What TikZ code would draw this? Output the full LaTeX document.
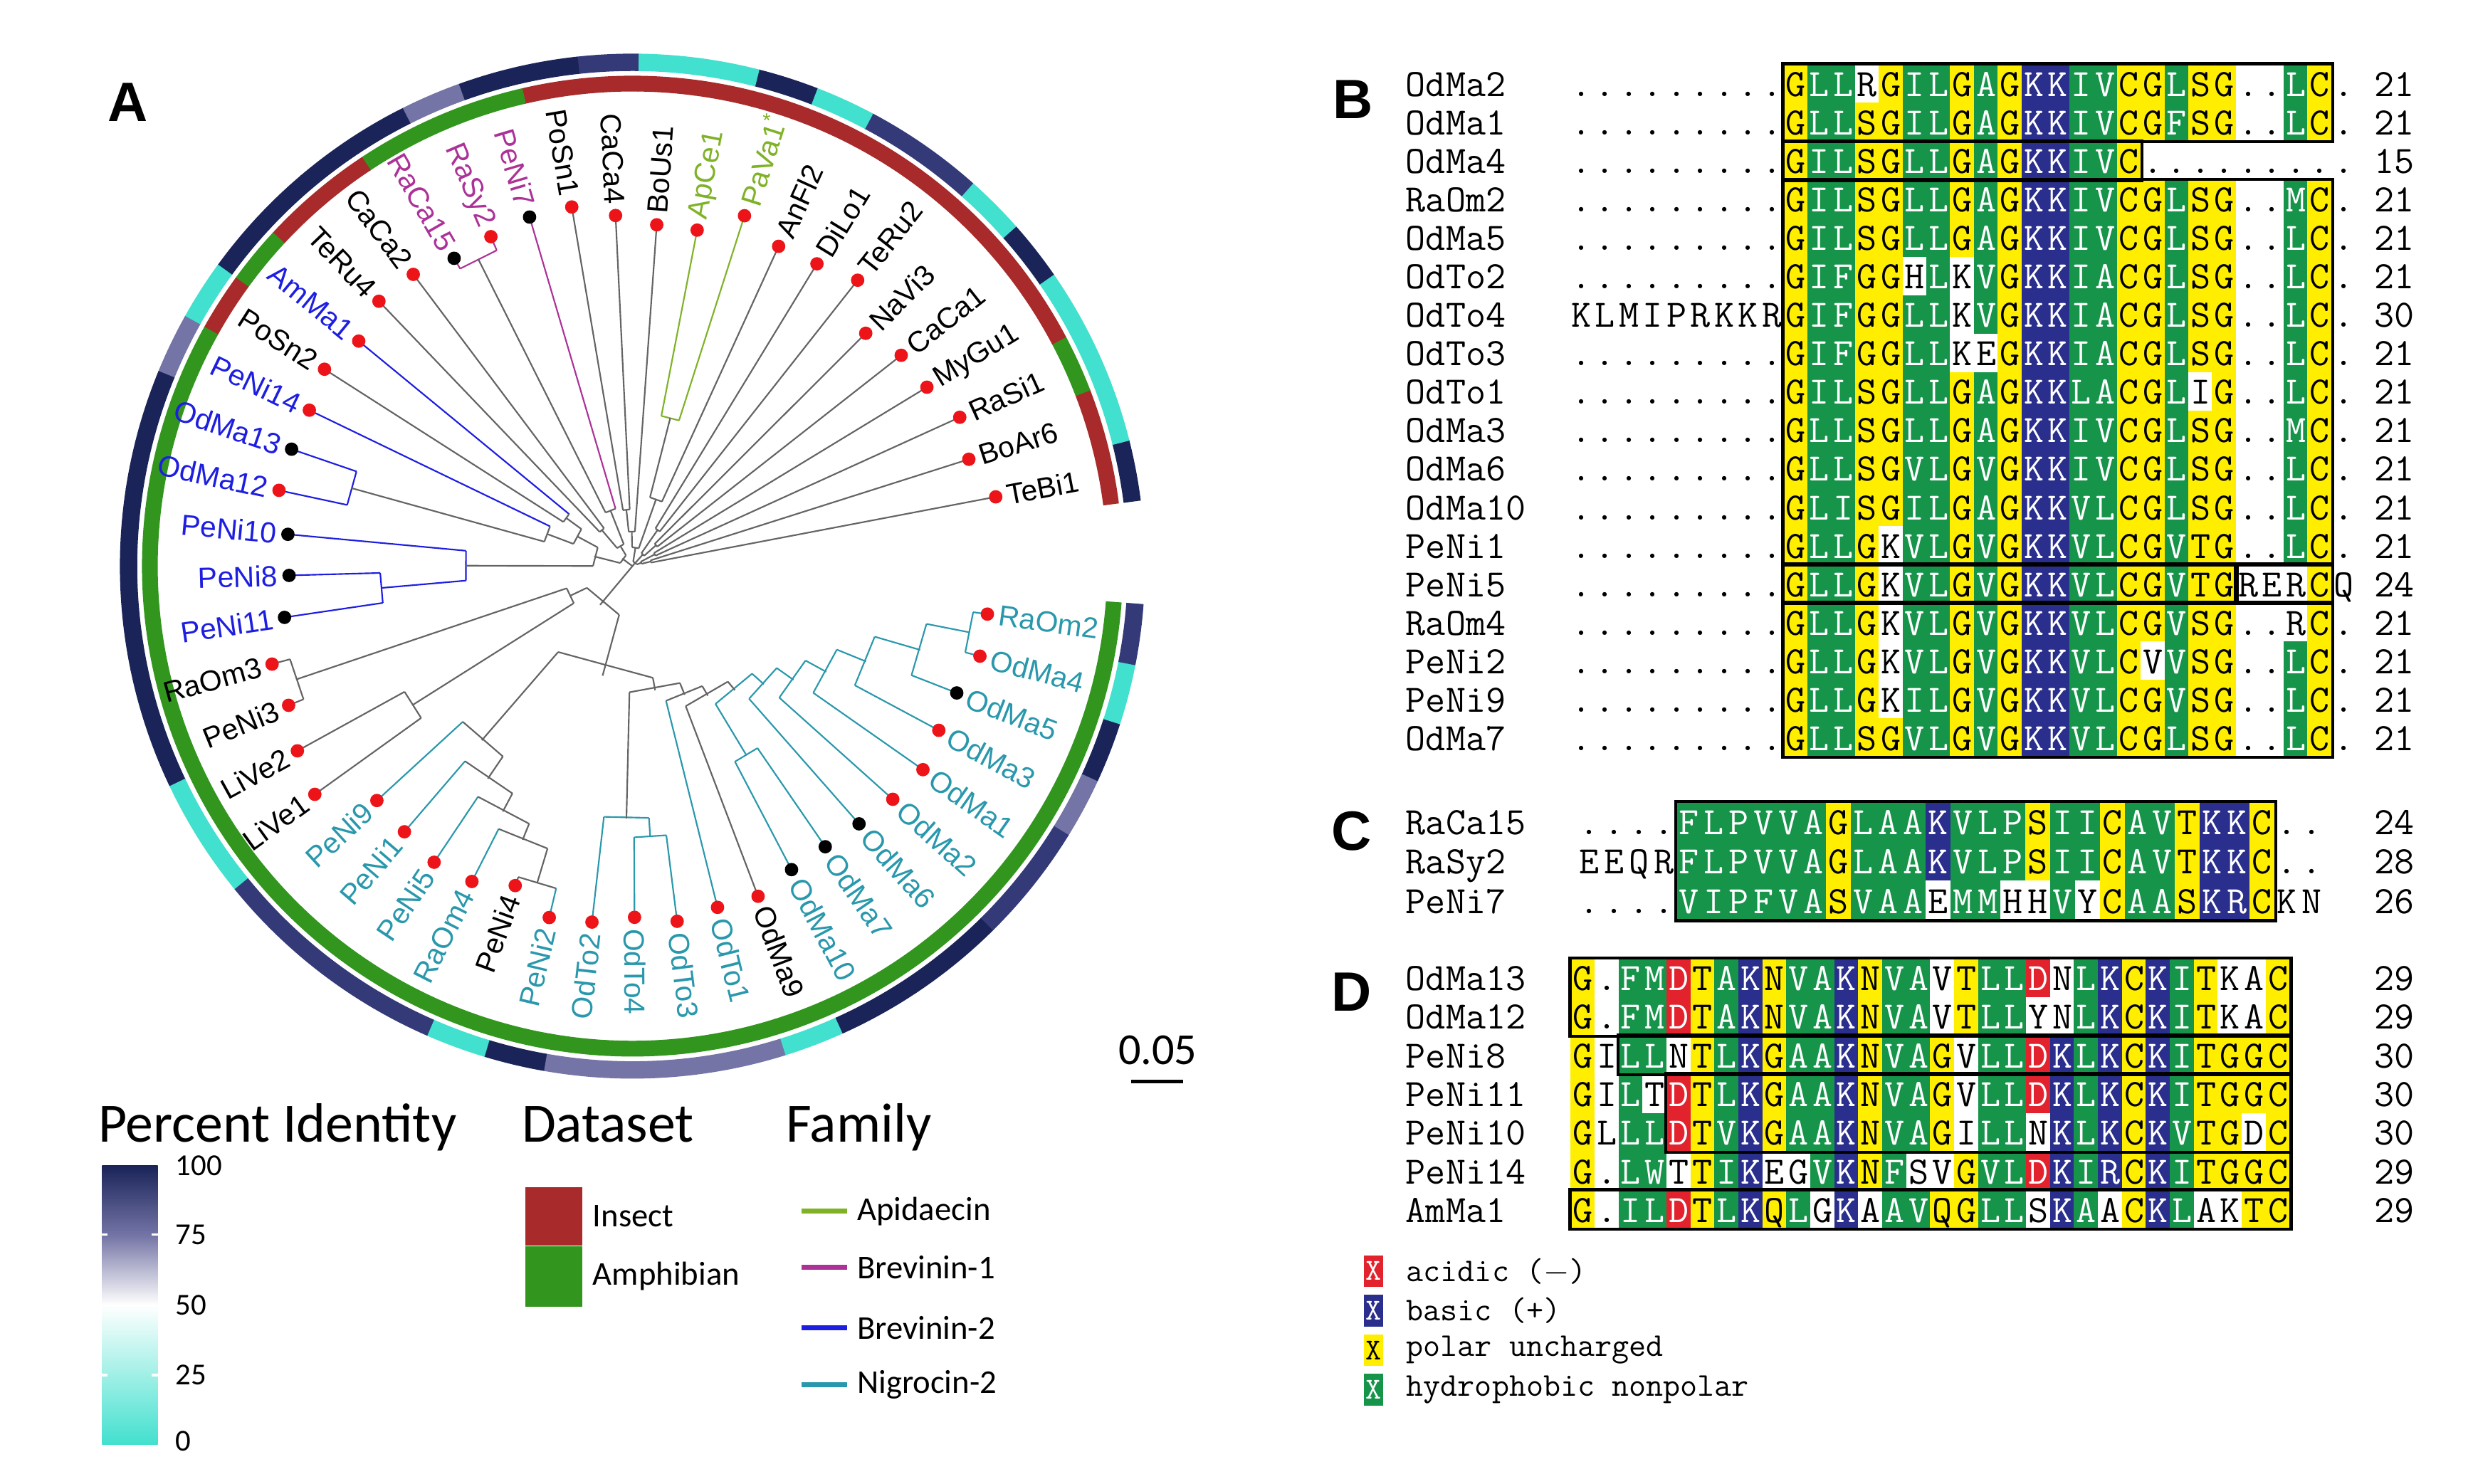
\documentclass[tikz,border=0pt]{standalone}
\usepackage{fontspec}
\usetikzlibrary{positioning}
\newfontfamily\helv{Liberation Sans}
\newfontfamily\calib{Carlito}

\definecolor{brgray}{RGB}{100,100,100}
\definecolor{api}{RGB}{128,178,40}
\definecolor{bre1}{RGB}{172,50,152}
\definecolor{bre2}{RGB}{30,30,225}
\definecolor{nig}{RGB}{42,152,172}
\definecolor{dotred}{RGB}{236,20,24}
\definecolor{ins}{RGB}{168,42,42}
\definecolor{amp}{RGB}{50,150,30}
\definecolor{pidnavy}{RGB}{26,36,88}
\definecolor{pidslate}{RGB}{52,58,120}
\definecolor{pidlslate}{RGB}{116,116,166}
\definecolor{pidturq}{RGB}{66,224,206}
\definecolor{bgY}{RGB}{255,238,0}
\definecolor{bgG}{RGB}{22,148,74}
\definecolor{bgB}{RGB}{42,46,140}
\definecolor{bgR}{RGB}{226,34,44}
\definecolor{bgW}{RGB}{255,255,255}
\colorlet{fgY}{black}
\colorlet{fgG}{white}
\colorlet{fgB}{white}
\colorlet{fgR}{white}
\colorlet{fgW}{black}

\pgfdeclareverticalshading{pidbar}{100bp}{color(0bp)=(pidturq); color(25bp)=(pidturq); color(50bp)=(white); color(62.5bp)=(pidlslate); color(75bp)=(pidnavy); color(100bp)=(pidnavy)}

% residue classes: Y polar, G hydrophobic, B basic, R acidic, W none
\newcommand\defres[2]{\foreach \rs in {#2}{\expandafter\xdef\csname res-\rs\endcsname{#1}}}
\defres{Y}{G,S,T,C,N,Q,Y}
\defres{G}{A,V,L,I,M,F,W,P}
\defres{B}{K,R,H}
\defres{R}{D,E}
\defres{W}{.}

% column classes of the three alignments
\newcommand\defcols[2]{\foreach \k [count=\i] in {#2}{\expandafter\xdef\csname #1col\i\endcsname{\k}}}
\defcols{b}{W,W,W,W,W,W,W,W,W,Y,G,G,Y,Y,G,G,Y,G,Y,B,B,G,G,Y,Y,G,Y,Y,W,W,G,Y,W}
\defcols{c}{W,W,W,W,G,G,G,G,G,G,Y,G,G,G,B,G,G,G,Y,G,G,Y,G,G,Y,B,B,Y,W,W}
\defcols{d}{Y,W,G,G,R,Y,G,B,Y,G,G,B,Y,G,G,Y,Y,G,G,R,B,G,B,Y,B,G,Y,Y,Y,Y}

\newcommand\seqtolist[1]{\gdef\seqlist{}\seqstep#1\relax}
\def\seqstep#1{\ifx#1\relax\else\xdef\seqlist{\seqlist\ifx\seqlist\empty\else,\fi#1}\expandafter\seqstep\fi}

% one alignment row: panel, id, label, y, x of first column, column width, residues, length
\newcommand\alnrow[8]{%
  \node[seqname] (#2) at (891,#4) {#3};
  \seqtolist{#7}%
  \foreach \sq [count=\i] in \seqlist {%
    \edef\colc{\csname #1col\i\endcsname}%
    \edef\resc{\csname res-\sq\endcsname}%
    \ifx\colc\resc\edef\cellc{\colc}\else\def\cellc{W}\fi
    \node[cell, minimum width=#6*0.02cm+0.3pt, fill=bg\cellc, text=fg\cellc] (#2-\i) at ({#5+(\i-1)*#6},#4) {\sq};
  }%
  \node[seqnum] (#2-len) at (1505,#4) {#8};
}

% tree points
\newcommand\tpt[3]{%
  \expandafter\xdef\csname a-#1\endcsname{#2}%
  \expandafter\xdef\csname r-#1\endcsname{#3}%
  \coordinate (#1) at (#2:#3);}
% clade: name, radius, children, chord colour, colour of own stem
\newcommand\clade[5]{%
  \foreach \ch [count=\k] in {#3} {\ifnum\k=1 \xdef\cfirst{\ch}\fi\xdef\clast{\ch}}%
  \edef\fa{\csname a-\cfirst\endcsname}\edef\la{\csname a-\clast\endcsname}%
  \pgfmathsetmacro\cang{(\fa+\la)/2}%
  \tpt{#1}{\cang}{#2}%
  \expandafter\xdef\csname e-#1\endcsname{#5}%
  \foreach \ch in {#3} {%
    \edef\chang{\csname a-\ch\endcsname}%
    \edef\chcol{\csname e-\ch\endcsname}%
    \coordinate (\ch-e) at (\chang:#2);
    \draw[branch, draw=\chcol] (\ch-e) -- (\ch);
  }%
  \draw[branch, draw=#4] (\cfirst-e) -- (\clast-e);
}

\def\leaflist{%
TeBi1/TeBi1/234.5/black/dotred/brgray,
BoAr6/BoAr6/223.8/black/dotred/brgray,
RaSi1/RaSi1/228/black/dotred/brgray,
MyGu1/MyGu1/218.5/black/dotred/brgray,
CaCa1/CaCa1/216.6/black/dotred/brgray,
NaVi3/NaVi3/209/black/dotred/brgray,
TeRu2/TeRu2/230.8/black/dotred/brgray,
DiLo1/DiLo1/224.6/black/dotred/brgray,
AnFl2/AnFl2/223/black/dotred/brgray,
PaVa1/{PaVa1\textsuperscript{*}}/233.3/api/dotred/api,
ApCe1/ApCe1/217/api/dotred/api,
BoUs1/BoUs1/217/black/dotred/brgray,
CaCa4/CaCa4/222.6/black/dotred/brgray,
PoSn1/PoSn1/231/black/dotred/brgray,
PeNi7/PeNi7/230.8/bre1/black/bre1,
RaSy2/RaSy2/227.4/bre1/dotred/bre1,
RaCa15/RaCa15/225.6/bre1/black/bre1,
CaCa2/CaCa2/231.4/black/dotred/brgray,
TeRu4/TeRu4/232.5/black/dotred/brgray,
AmMa1/AmMa1/224.7/bre2/dotred/bre2,
PoSn2/PoSn2/231.8/black/dotred/brgray,
PeNi14/PeNi14/227.5/bre2/dotred/bre2,
OdMa13/OdMa13/228.5/bre2/black/bre2,
OdMa12/OdMa12/229.2/bre2/dotred/bre2,
PeNi10/PeNi10/219.4/bre2/black/bre2,
PeNi8/PeNi8/217.8/bre2/black/bre2,
PeNi11/PeNi11/223/bre2/black/bre2,
RaOm3/RaOm3/236.8/black/dotred/brgray,
PeNi3/PeNi3/235.2/black/dotred/brgray,
LiVe2/LiVe2/242.6/black/dotred/brgray,
LiVe1/LiVe1/248/black/dotred/brgray,
PeNi9/PeNi9/219.9/nig/dotred/nig,
PeNi1/PeNi1/222/nig/dotred/nig,
PeNi5/PeNi5/226/nig/dotred/nig,
RaOm4/RaOm4/224.4/nig/dotred/nig,
PeNi4/PeNi4/215.8/black/dotred/brgray,
PeNi2/PeNi2/229/nig/dotred/nig,
OdTo2/OdTo2/227.2/nig/dotred/nig,
OdTo4/OdTo4/222.7/nig/dotred/nig,
OdTo3/OdTo3/227/nig/dotred/nig,
OdTo1/OdTo1/223/nig/dotred/nig,
OdMa9/OdMa9/224/black/dotred/brgray,
OdMa10/OdMa10/217.3/nig/black/nig,
OdMa7/OdMa7/215.9/nig/black/nig,
OdMa6/OdMa6/217.6/nig/black/nig,
OdMa2/OdMa2/221.6/nig/dotred/nig,
OdMa1/OdMa1/224.9/nig/dotred/nig,
OdMa3/OdMa3/220.4/nig/dotred/nig,
OdMa5/OdMa5/220.8/nig/black/nig,
OdMa4/OdMa4/227.6/nig/dotred/nig,
RaOm2/RaOm2/227.1/nig/dotred/nig}

\begin{document}
\begin{tikzpicture}[x=0.02cm, y=-0.02cm,
    branch/.style={line width=0.55pt},
    leafdot/.style={circle, inner sep=0pt, minimum size=0.17cm},
    leaflab/.style={font=\helv\fontsize{10.5}{12}\selectfont, inner sep=0pt},
    dsring/.style={line width=0.2cm},
    pidring/.style={line width=0.22cm},
    panel/.style={font=\helv\bfseries\fontsize{20}{24}\selectfont, inner sep=0pt},
    legtitle/.style={font=\calib\fontsize{20}{24}\selectfont, anchor=base west, inner sep=0pt},
    legitem/.style={font=\calib\fontsize{12}{14}\selectfont, anchor=west, inner sep=0pt},
    legnum/.style={font=\calib\fontsize{11}{13}\selectfont, anchor=west, inner sep=0pt},
    famline/.style={line width=1.7pt},
    cell/.style={rectangle, inner sep=0pt, minimum height=\cellh*0.02cm, text height=9.6pt, text depth=0.4pt, font=\ttfamily\fontsize{14}{14}\selectfont},
    seqname/.style={anchor=west, inner sep=0pt, text height=9.6pt, text depth=0.4pt, font=\ttfamily\fontsize{14}{14}\selectfont},
    seqnum/.style={seqname},
    alnbox/.style={draw=black, line width=1.1pt},
    keybox/.style={rectangle, inner sep=0pt, minimum width=0.24cm, minimum height=0.4cm, font=\ttfamily\fontsize{11}{11}\selectfont},
    keytext/.style={inner sep=0pt, font=\ttfamily\fontsize{12}{12}\selectfont}]

\path[fill=white, use as bounding box] (0,0) rectangle (1568,941);

% ---- A: tree
\node[panel] (pA) at (81,65) {A};
\begin{scope}[shift={(401,359)}, y=0.02cm]
  % rings
  \foreach \ds/\pid [count=\i] in {ins/pidnavy, ins/pidturq, amp/pidturq, ins/pidturq, ins/pidnavy,
      ins/pidturq, ins/pidslate, ins/pidslate, ins/pidturq, ins/pidnavy, ins/pidturq, ins/pidturq,
      ins/pidslate, ins/pidnavy, amp/pidnavy, amp/pidlslate, amp/pidnavy, ins/pidnavy, ins/pidnavy,
      amp/pidnavy, ins/pidturq, amp/pidlslate, amp/pidnavy, amp/pidnavy, amp/pidnavy, amp/pidnavy,
      amp/pidnavy, amp/pidnavy, amp/pidnavy, amp/pidturq, amp/pidturq, amp/pidslate, amp/pidslate,
      amp/pidslate, amp/pidslate, amp/pidturq, amp/pidnavy, amp/pidlslate, amp/pidlslate,
      amp/pidlslate, amp/pidlslate, amp/pidturq, amp/pidnavy, amp/pidnavy, amp/pidnavy,
      amp/pidslate, amp/pidslate, amp/pidlslate, amp/pidnavy, amp/pidturq, amp/pidslate} {
    \pgfmathsetmacro\aS{10.8+(\i-1)*6.83-3.45}
    \pgfmathsetmacro\aE{10.8+(\i-1)*6.83+3.45}
    \draw[dsring, draw=\ds] (\aS:306) arc[start angle=\aS, end angle=\aE, radius=306];
    \draw[pidring, draw=\pid] (\aS:319.5) arc[start angle=\aS, end angle=\aE, radius=319.5];
  }
  % leaves
  \foreach \nm/\lb/\rr/\lc/\dc/\ec [count=\i] in \leaflist {
    \pgfmathsetmacro\ang{10.8+(\i-1)*6.83}
    \tpt{\nm}{\ang}{\rr}
    \expandafter\xdef\csname e-\nm\endcsname{\ec}
  }
  % clades
  \clade{c1}{12}{TeBi1,BoAr6}{brgray}{brgray}
  \clade{c2}{16}{RaSi1,MyGu1}{brgray}{brgray}
  \clade{c3}{6}{c1,c2}{brgray}{brgray}
  \clade{c4}{20}{CaCa1,NaVi3}{brgray}{brgray}
  \clade{c5}{28}{TeRu2,DiLo1}{brgray}{brgray}
  \clade{c6}{10}{c4,c5}{brgray}{brgray}
  \clade{ap}{97}{PaVa1,ApCe1}{api}{brgray}
  \clade{c7}{45}{AnFl2,ap}{brgray}{brgray}
  \clade{c8}{36}{CaCa4,PoSn1}{brgray}{brgray}
  \clade{c9}{22}{BoUs1,c8}{brgray}{brgray}
  \clade{c10}{12}{c7,c9}{brgray}{brgray}
  \clade{top}{3}{c3,c6,c10}{brgray}{brgray}
  \clade{b1a}{218}{RaSy2,RaCa15}{bre1}{brgray}
  \clade{b1}{38}{PeNi7,b1a}{brgray}{brgray}
  \clade{b2}{30}{CaCa2,TeRu4}{brgray}{brgray}
  \clade{b3}{15}{b1,b2}{brgray}{brgray}
  \clade{b5}{52}{AmMa1,PoSn2}{brgray}{brgray}
  \clade{brA}{185}{OdMa13,OdMa12}{bre2}{brgray}
  \clade{b4}{58}{PeNi14,brA}{brgray}{brgray}
  \clade{b6}{40}{b5,b4}{brgray}{brgray}
  \clade{brB}{160}{PeNi8,PeNi11}{bre2}{bre2}
  \clade{brC}{106}{PeNi10,brB}{bre2}{brgray}
  \clade{b7}{25}{b6,brC}{brgray}{brgray}
  \clade{up}{8}{b3,b7}{brgray}{brgray}
  \clade{d1}{225}{RaOm3,PeNi3}{brgray}{brgray}
  \clade{d2}{165}{LiVe2,LiVe1}{brgray}{brgray}
  \clade{d3}{44}{d1,d2}{brgray}{brgray}
  \clade{n6}{210}{PeNi4,PeNi2}{brgray}{brgray}
  \clade{n5}{187}{RaOm4,n6}{brgray}{brgray}
  \clade{n4}{176}{PeNi5,n5}{brgray}{brgray}
  \clade{n3}{163}{PeNi1,n4}{brgray}{brgray}
  \clade{n1}{146}{PeNi9,n3}{brgray}{brgray}
  \clade{ot1}{172}{OdTo4,OdTo3}{nig}{nig}
  \clade{ot2}{160}{OdTo2,ot1}{nig}{brgray}
  \clade{om4}{218}{OdMa4,RaOm2}{nig}{nig}
  \clade{om5}{190}{OdMa5,om4}{nig}{nig}
  \clade{om6}{160}{OdMa3,om5}{nig}{nig}
  \clade{om7}{140}{OdMa1,om6}{nig}{nig}
  \clade{om8}{125}{OdMa2,om7}{nig}{nig}
  \clade{om9}{112}{OdMa6,om8}{nig}{nig}
  \clade{om3}{140}{OdMa10,OdMa7}{nig}{nig}
  \clade{om10}{102}{om3,om9}{nig}{brgray}
  \clade{om1}{95}{OdMa9,om10}{brgray}{brgray}
  \clade{ot3}{88}{OdTo1,om1}{brgray}{brgray}
  \clade{ot4}{80}{ot2,ot3}{brgray}{brgray}
  \clade{n7}{72}{n1,ot4}{brgray}{brgray}
  \clade{low}{32}{d3,n7}{brgray}{brgray}
  \clade{root}{0}{top,up,low}{brgray}{brgray}
  % tips and names
  \foreach \nm/\lb/\rr/\lc/\dc/\ec [count=\i] in \leaflist {
    \pgfmathsetmacro\ang{10.8+(\i-1)*6.83}
    \node[leafdot, fill=\dc] (\nm-d) at (\nm) {};
    \def\anc{west}\let\rot\ang
    \ifdim\ang pt>90pt \ifdim\ang pt<270pt \def\anc{east}\pgfmathsetmacro\rot{\ang-180}\fi\fi
    \node[leaflab, text=\lc, anchor=\anc, rotate=\rot] (\nm-t) at (\ang:{\rr+7}) {\lb};
  }
\end{scope}

% scale bar
\node[font=\calib\fontsize{16}{18}\selectfont, inner sep=0pt] (sblab) at (734,666) {0.05};
\coordinate (sbL) at (717,686);
\coordinate (sbR) at (750,686);
\draw[line width=1.3pt] (sbL) -- (sbR);

% legends
\node[legtitle] (tPid) at (62,724) {Percent Identity};
\node[legtitle] (tDs) at (330.5,724) {Dataset};
\node[legtitle] (tFam) at (498,724) {Family};
\node[shade, shading=pidbar, inner sep=0pt, minimum width=35.3*0.02cm, minimum height=177*0.02cm] (pidbar) at (82.35,827.5) {};
\foreach \v/\yy in {100/739, 75/783, 50/827.5, 25/872, 0/914}
  \node[legnum] (pid\v) at (111,\yy) {\v};
\foreach \v in {75,25} {
  \draw[white, line width=0.8pt] (pidbar.west |- pid\v) -- ++(4,0);
  \draw[white, line width=0.8pt] (pidbar.east |- pid\v) -- ++(-4,0);
}
\node[fill=ins, inner sep=0pt, minimum width=36*0.02cm, minimum height=37*0.02cm] (insbox) at (351,771.3) {};
\node[fill=amp, inner sep=0pt, minimum width=36*0.02cm, minimum height=38*0.02cm, below=0pt of insbox] (ampbox) {};
\node[legitem, right=3.5pt of insbox] (insT) {Insect};
\node[legitem, right=3.5pt of ampbox] (ampT) {Amphibian};
\foreach \fc/\ft/\fy [count=\k] in {api/Apidaecin/768, bre1/Brevinin-1/803.6, bre2/Brevinin-2/842, nig/Nigrocin-2/878} {
  \coordinate (fam\k-a) at (508,\fy);
  \coordinate (fam\k-b) at (537,\fy);
  \draw[famline, draw=\fc] (fam\k-a) -- (fam\k-b);
  \node[legitem, right=3.5pt of fam\k-b] (fam\k-t) {\ft};
}

% ---- B
\node[panel] (pB) at (858,63) {B};
\def\cellh{24.4}
\alnrow{b}{bOdMa2}{OdMa2}{53}{1002.65}{15.1}{.........GLLRGILGAGKKIVCGLSG..LC.}{21}
\alnrow{b}{bOdMa1}{OdMa1}{77.4}{1002.65}{15.1}{.........GLLSGILGAGKKIVCGFSG..LC.}{21}
\alnrow{b}{bOdMa4}{OdMa4}{101.8}{1002.65}{15.1}{.........GILSGLLGAGKKIVC.........}{15}
\alnrow{b}{bRaOm2}{RaOm2}{126.2}{1002.65}{15.1}{.........GILSGLLGAGKKIVCGLSG..MC.}{21}
\alnrow{b}{bOdMa5}{OdMa5}{150.6}{1002.65}{15.1}{.........GILSGLLGAGKKIVCGLSG..LC.}{21}
\alnrow{b}{bOdTo2}{OdTo2}{175}{1002.65}{15.1}{.........GIFGGHLKVGKKIACGLSG..LC.}{21}
\alnrow{b}{bOdTo4}{OdTo4}{199.4}{1002.65}{15.1}{KLMIPRKKRGIFGGLLKVGKKIACGLSG..LC.}{30}
\alnrow{b}{bOdTo3}{OdTo3}{223.8}{1002.65}{15.1}{.........GIFGGLLKEGKKIACGLSG..LC.}{21}
\alnrow{b}{bOdTo1}{OdTo1}{248.2}{1002.65}{15.1}{.........GILSGLLGAGKKLACGLIG..LC.}{21}
\alnrow{b}{bOdMa3}{OdMa3}{272.6}{1002.65}{15.1}{.........GLLSGLLGAGKKIVCGLSG..MC.}{21}
\alnrow{b}{bOdMa6}{OdMa6}{297}{1002.65}{15.1}{.........GLLSGVLGVGKKIVCGLSG..LC.}{21}
\alnrow{b}{bOdMa10}{OdMa10}{321.4}{1002.65}{15.1}{.........GLISGILGAGKKVLCGLSG..LC.}{21}
\alnrow{b}{bPeNi1}{PeNi1}{345.8}{1002.65}{15.1}{.........GLLGKVLGVGKKVLCGVTG..LC.}{21}
\alnrow{b}{bPeNi5}{PeNi5}{370.2}{1002.65}{15.1}{.........GLLGKVLGVGKKVLCGVTGRERCQ}{24}
\alnrow{b}{bRaOm4}{RaOm4}{394.6}{1002.65}{15.1}{.........GLLGKVLGVGKKVLCGVSG..RC.}{21}
\alnrow{b}{bPeNi2}{PeNi2}{419}{1002.65}{15.1}{.........GLLGKVLGVGKKVLCVVSG..LC.}{21}
\alnrow{b}{bPeNi9}{PeNi9}{443.4}{1002.65}{15.1}{.........GLLGKILGVGKKVLCGVSG..LC.}{21}
\alnrow{b}{bOdMa7}{OdMa7}{467.8}{1002.65}{15.1}{.........GLLSGVLGVGKKVLCGLSG..LC.}{21}
\draw[alnbox] (bOdMa2-10.north west) rectangle (bOdMa1-32.south east);
\draw[alnbox] (bOdMa4-10.north west) rectangle (bOdMa4-24.south east);
\draw[alnbox] (bRaOm2-10.north west) rectangle (bPeNi1-32.south east);
\draw[alnbox] (bPeNi5-10.north west) rectangle (bPeNi5-28.south east);
\draw[alnbox] (bPeNi5-29.north west) rectangle (bPeNi5-32.south east);
\draw[alnbox] (bRaOm4-10.north west) rectangle (bOdMa7-32.south east);

% ---- C
\node[panel] (pC) at (857,527) {C};
\def\cellh{25}
\alnrow{c}{cRaCa15}{RaCa15}{521}{1007.7}{15.8}{....FLPVVAGLAAKVLPSIICAVTKKC..}{24}
\alnrow{c}{cRaSy2}{RaSy2}{546}{1007.7}{15.8}{EEQRFLPVVAGLAAKVLPSIICAVTKKC..}{28}
\alnrow{c}{cPeNi7}{PeNi7}{571}{1007.7}{15.8}{....VIPFVASVAAEMMHHVYCAASKRCKN}{26}
\draw[alnbox] (cRaCa15-5.north west) rectangle (cPeNi7-28.south east);

% ---- D
\node[panel] (pD) at (857,629) {D};
\def\cellh{24.5}
\alnrow{d}{dOdMa13}{OdMa13}{620}{1003.6}{15.2}{G.FMDTAKNVAKNVAVTLLDNLKCKITKAC}{29}
\alnrow{d}{dOdMa12}{OdMa12}{644.5}{1003.6}{15.2}{G.FMDTAKNVAKNVAVTLLYNLKCKITKAC}{29}
\alnrow{d}{dPeNi8}{PeNi8}{669}{1003.6}{15.2}{GILLNTLKGAAKNVAGVLLDKLKCKITGGC}{30}
\alnrow{d}{dPeNi11}{PeNi11}{693.5}{1003.6}{15.2}{GILTDTLKGAAKNVAGVLLDKLKCKITGGC}{30}
\alnrow{d}{dPeNi10}{PeNi10}{718}{1003.6}{15.2}{GLLLDTVKGAAKNVAGILLNKLKCKVTGDC}{30}
\alnrow{d}{dPeNi14}{PeNi14}{742.5}{1003.6}{15.2}{G.LWTTIKEGVKNFSVGVLDKIRCKITGGC}{29}
\alnrow{d}{dAmMa1}{AmMa1}{767}{1003.6}{15.2}{G.ILDTLKQLGKAAVQGLLSKAACKLAKTC}{29}
\draw[alnbox] (dOdMa13-1.north west) rectangle (dOdMa12-30.south east);
\draw[alnbox] (dPeNi8-3.north west) rectangle (dPeNi8-30.south east);
\draw[alnbox] (dPeNi11-5.north west) rectangle (dPeNi10-30.south east);
\draw[alnbox] (dAmMa1-1.north west) rectangle (dAmMa1-30.south east);
\draw[alnbox] (dPeNi14-30.north east) -- (dPeNi14-30.south east);

% key
\foreach \cl/\tx [count=\k] in {R/{acidic ($-$)}, B/{basic (+)}, Y/{polar uncharged}, G/{hydrophobic nonpolar}} {
  \node[keybox, fill=bg\cl, text=fg\cl] (key\k) at (871,{806+(\k-1)*25.1}) {X};
  \node[keytext, right=8pt of key\k] (keyt\k) {\tx};
}
\end{tikzpicture}
\end{document}
